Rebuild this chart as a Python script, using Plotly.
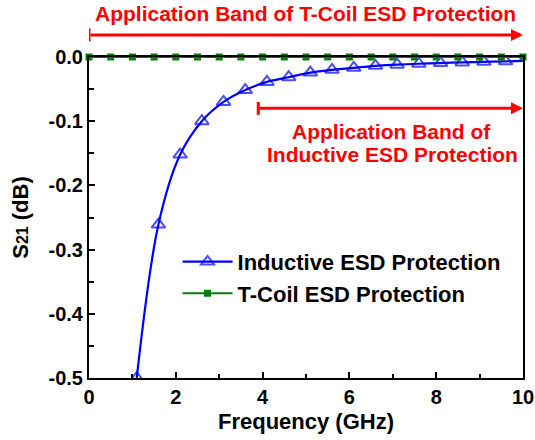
import plotly.graph_objects as go

# ---- data ----
ind_freq = [1.1, 1.6, 2.1, 2.6, 3.1, 3.6, 4.1, 4.6, 5.1, 5.6, 6.1, 6.6, 7.1, 7.6, 8.1, 8.6, 9.1, 9.6, 10.0]
ind_s21 = [-0.500, -0.261, -0.152, -0.100, -0.070, -0.0515, -0.0388, -0.0315, -0.0243, -0.020,
           -0.0168, -0.0137, -0.0120, -0.0105, -0.0094, -0.0084, -0.0075, -0.0068, -0.0060]
ind_marker_size = [12] * 18 + [0]

tcoil_freq = [i * 0.5 for i in range(21)]
tcoil_s21 = [0.0] * 21

y_tickvals = [0.0, -0.1, -0.2, -0.3, -0.4, -0.5]
y_ticktext = ["0.0", "-0.1", "-0.2", "-0.3", "-0.4", "-0.5"]
x_tickvals = [0, 2, 4, 6, 8, 10]
x_ticktext = ["0", "2", "4", "6", "8", "10"]

FONT = "Liberation Sans, Arial, sans-serif"
RED = "#FF0000"

fig = go.Figure()
fig.add_trace(go.Scatter(
    x=ind_freq, y=ind_s21, name="Inductive ESD Protection",
    mode="lines+markers", line=dict(color="#0000FF", width=2.2, shape="spline"),
    marker=dict(symbol="triangle-up-open", size=ind_marker_size, color="#0000FF",
                line=dict(width=2, color="#0000FF")),
    cliponaxis=True,
))
fig.add_trace(go.Scatter(
    x=tcoil_freq, y=tcoil_s21, name="T-Coil ESD Protection",
    mode="lines+markers", line=dict(color="#008000", width=2),
    marker=dict(symbol="square", size=7, color="#008000"),
    cliponaxis=False,
))

axis_common = dict(
    showgrid=False, zeroline=False, showline=True, linecolor="black", linewidth=2,
    mirror=True, ticks="inside", tickcolor="black", tickwidth=2, ticklen=6,
    tickfont=dict(family=FONT, size=20, color="black", weight="bold"),
    automargin=False,
)

fig.update_xaxes(
    range=[0, 10], tickvals=x_tickvals, ticktext=x_ticktext,
    minor=dict(dtick=1, ticks="inside", ticklen=4, tickwidth=2, tickcolor="black"),
    title=dict(text="<b>Frequency (GHz)</b>", font=dict(family=FONT, size=22, color="black"),
               standoff=7),
    **axis_common,
)
fig.update_yaxes(
    range=[-0.5, 0.0], tickvals=y_tickvals, ticktext=y_ticktext,
    minor=dict(dtick=0.05, ticks="inside", ticklen=5, tickwidth=2, tickcolor="black"),
    title=dict(text="<b>S<span style='font-size:16px'>21</span> (dB)</b>",
               font=dict(family=FONT, size=22, color="black"), standoff=14),
    **axis_common,
)

annotations = [
    # top band text
    dict(text="<b>Application Band of T-Coil ESD Protection</b>", xref="paper", yref="paper",
         x=0.498, y=1.134, xanchor="center", yanchor="middle", showarrow=False,
         font=dict(family=FONT, size=21, color=RED)),
    # top arrow
    dict(text="", xref="x", yref="paper", x=10, y=1.0685, axref="x", ax=0, ayref="pixel", ay=0,
         showarrow=True, arrowhead=2, arrowsize=0.8, arrowwidth=3, arrowcolor=RED, standoff=0),
    # inner arrow
    dict(text="", xref="x", yref="y", x=10, y=-0.08, axref="x", ax=3.9, ayref="y", ay=-0.08,
         showarrow=True, arrowhead=2, arrowsize=0.8, arrowwidth=3, arrowcolor=RED, standoff=0),
    dict(text="<b>Application Band of</b>", xref="x", yref="y", x=6.98, y=-0.1165,
         showarrow=False, font=dict(family=FONT, size=21, color=RED)),
    dict(text="<b>Inductive ESD Protection</b>", xref="x", yref="y", x=7.0, y=-0.1525,
         showarrow=False, font=dict(family=FONT, size=21, color=RED)),
]

shapes = [
    dict(type="line", xref="x", yref="paper", x0=0, x1=0, y0=1.048, y1=1.089,
         line=dict(color=RED, width=3)),
    dict(type="line", xref="x", yref="y", x0=3.9, x1=3.9, y0=-0.0699, y1=-0.0901,
         line=dict(color=RED, width=3)),
]

fig.update_layout(
    width=535, height=440,
    margin=dict(l=89, r=12, t=57, b=62),
    paper_bgcolor="white", plot_bgcolor="white",
    font=dict(family=FONT, color="black"),
    showlegend=True,
    legend=dict(x=0.204, y=0.4275, xanchor="left", yanchor="top",
                bgcolor="rgba(0,0,0,0)", borderwidth=0,
                font=dict(family=FONT, size=22, color="black", weight="bold"),
                itemwidth=50, tracegroupgap=0),
    annotations=annotations,
    shapes=shapes,
)

fig.write_html("out.html", config={"displayModeBar": False},
               post_script="document.body.style.margin='0';document.body.style.overflow='hidden';")
